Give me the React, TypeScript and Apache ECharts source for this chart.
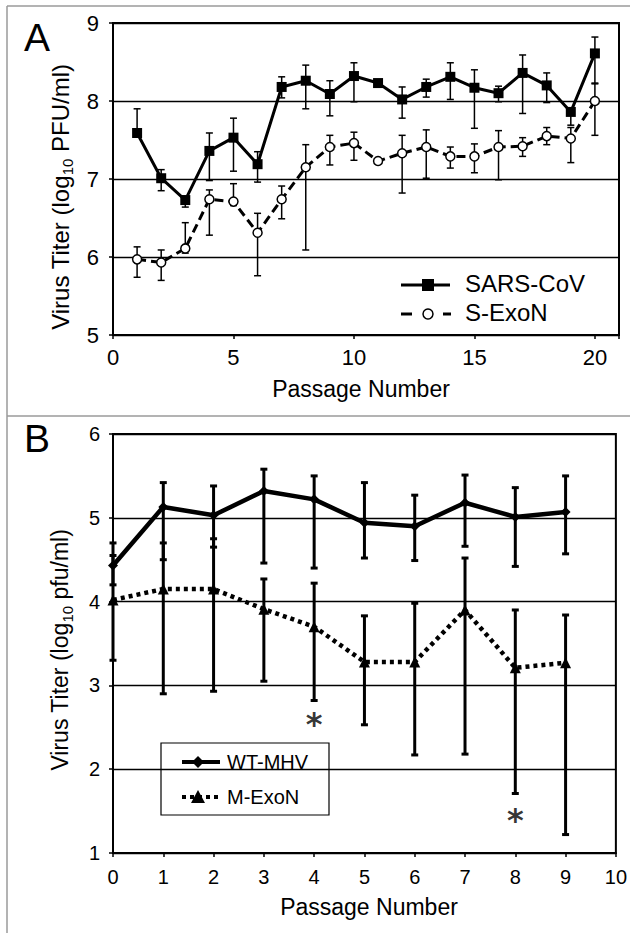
import React, { useEffect, useRef } from "react";
import * as echarts from "echarts";

// ---------- Panel A data ----------
const passagesA = [1, 2, 3, 4, 5, 6, 7, 8, 9, 10, 11, 12, 13, 14, 15, 16, 17, 18, 19, 20];
const sarsMean = [7.59, 7.01, 6.73, 7.36, 7.53, 7.19, 8.18, 8.26, 8.09, 8.32, 8.23, 8.02, 8.18, 8.31, 8.17, 8.1, 8.36, 8.2, 7.86, 8.61];
const sarsHi = [7.9, 7.12, 6.78, 7.59, 7.78, 7.35, 8.31, 8.46, 8.26, 8.49, 8.26, 8.18, 8.28, 8.49, 8.4, 8.19, 8.59, 8.36, 7.9, 8.82];
const sarsLo = [7.55, 6.85, 6.64, 6.98, 7.1, 6.96, 8.04, 7.9, 7.81, 7.99, 8.2, 7.78, 8.05, 8.02, 7.65, 7.99, 7.84, 7.98, 7.69, 8.23];
const sexonMean = [5.97, 5.93, 6.11, 6.74, 6.71, 6.31, 6.74, 7.15, 7.41, 7.46, 7.23, 7.33, 7.41, 7.29, 7.29, 7.41, 7.42, 7.55, 7.52, 8.0];
const sexonHi = [6.13, 6.09, 6.44, 6.86, 6.94, 6.56, 6.91, 7.44, 7.56, 7.6, 7.26, 7.56, 7.63, 7.41, 7.45, 7.62, 7.53, 7.66, 7.66, 8.22];
const sexonLo = [5.74, 5.7, 6.05, 6.28, 6.66, 5.76, 6.49, 6.09, 7.18, 7.24, 7.2, 6.82, 7.01, 7.14, 7.08, 6.99, 7.29, 7.44, 7.21, 7.56];
const xRangeA = [0, 21];
const xStepA = 5;
const yTicksA = [5, 6, 7, 8, 9];

// ---------- Panel B data ----------
const passagesB = [0, 1, 2, 3, 4, 5, 6, 7, 8, 9];
const wtMean = [4.43, 5.13, 5.03, 5.32, 5.22, 4.94, 4.9, 5.18, 5.01, 5.07];
const wtHi = [4.7, 5.42, 5.38, 5.58, 5.5, 5.42, 5.27, 5.51, 5.36, 5.5];
const wtLo = [4.2, 4.5, 4.65, 4.46, 4.4, 4.52, 4.49, 4.66, 4.42, 4.57];
const mexonMean = [4.02, 4.15, 4.15, 3.91, 3.7, 3.28, 3.28, 3.9, 3.21, 3.27];
const mexonHi = [4.55, 4.7, 4.75, 4.27, 4.22, 3.83, 3.98, 4.52, 3.9, 3.84];
const mexonLo = [3.3, 2.9, 2.93, 3.05, 2.82, 2.53, 2.17, 2.18, 1.71, 1.22];
const asteriskPoints = [
  [4, 2.62],
  [8, 1.48],
];
const xRangeB = [0, 10];
const yTicksB = [1, 2, 3, 4, 5, 6];

const FONT = '"Liberation Sans", Arial, Helvetica, sans-serif';

function errorSeries(xs: number[], lo: number[], hi: number[], gi: number, lw: number, capW: number) {
  return {
    type: "custom",
    xAxisIndex: gi,
    yAxisIndex: gi,
    z: 1,
    silent: true,
    data: xs.map((x, i) => [x, lo[i], hi[i]]),
    encode: { x: 0, y: [1, 2] },
    renderItem: (_params: any, api: any) => {
      const x = api.value(0);
      const top = api.coord([x, api.value(2)]);
      const bot = api.coord([x, api.value(1)]);
      const style = { stroke: "#000", lineWidth: lw };
      return {
        type: "group",
        children: [
          { type: "line", shape: { x1: top[0], y1: top[1], x2: bot[0], y2: bot[1] }, style },
          { type: "line", shape: { x1: top[0] - capW / 2, y1: top[1], x2: top[0] + capW / 2, y2: top[1] }, style },
          { type: "line", shape: { x1: bot[0] - capW / 2, y1: bot[1], x2: bot[0] + capW / 2, y2: bot[1] }, style },
        ],
      };
    },
  };
}

function axisCommon(fontSize: number, margin: number) {
  return {
    axisLine: { show: true, onZero: false, lineStyle: { color: "#000", width: 2 } },
    axisTick: { show: true, length: 4, lineStyle: { color: "#000", width: 1.5 } },
    axisLabel: { color: "#000", fontSize, fontFamily: FONT, margin },
  };
}

export default function App() {
  const ref = useRef<HTMLDivElement>(null);
  useEffect(() => {
    if (!ref.current) return;
    const chart = echarts.init(ref.current, null, { renderer: "svg" });
    const option: any = {
      animation: false,
      backgroundColor: "#fff",
      textStyle: { fontFamily: FONT },
      grid: [
        { left: 113, top: 23, width: 506, height: 312, show: true, borderColor: "#000", borderWidth: 2, backgroundColor: "transparent" },
        { left: 113, top: 434, width: 509, height: 419, show: true, borderColor: "#000", borderWidth: 2, backgroundColor: "transparent" },
      ],
      xAxis: [
        {
          type: "value",
          gridIndex: 0,
          min: xRangeA[0],
          max: xRangeA[1],
          interval: xStepA,
          splitLine: { show: false },
          ...axisCommon(22, 11),
          axisLabel: {
            color: "#000",
            fontSize: 22,
            fontFamily: FONT,
            margin: 11,
            formatter: (v: number) => (v % xStepA === 0 ? String(v) : ""),
          },
        },
        {
          type: "value",
          gridIndex: 1,
          min: xRangeB[0],
          max: xRangeB[1],
          interval: 1,
          splitLine: { show: false },
          ...axisCommon(20, 14),
        },
      ],
      yAxis: [
        {
          type: "value",
          gridIndex: 0,
          min: yTicksA[0],
          max: yTicksA[yTicksA.length - 1],
          interval: 1,
          splitLine: { show: true, lineStyle: { color: "#000", width: 1.3 } },
          ...axisCommon(22, 14),
        },
        {
          type: "value",
          gridIndex: 1,
          min: yTicksB[0],
          max: yTicksB[yTicksB.length - 1],
          interval: 1,
          splitLine: { show: true, lineStyle: { color: "#000", width: 1.3 } },
          ...axisCommon(20, 13),
        },
      ],
      series: [
        errorSeries(passagesA, sarsLo, sarsHi, 0, 1.5, 7),
        errorSeries(passagesA, sexonLo, sexonHi, 0, 1.5, 7),
        {
          name: "SARS-CoV",
          type: "line",
          xAxisIndex: 0,
          yAxisIndex: 0,
          z: 3,
          data: passagesA.map((x, i) => [x, sarsMean[i]]),
          symbol: "rect",
          symbolSize: 10,
          lineStyle: { color: "#000", width: 3 },
          itemStyle: { color: "#000" },
        },
        {
          name: "S-ExoN",
          type: "line",
          xAxisIndex: 0,
          yAxisIndex: 0,
          z: 3,
          data: passagesA.map((x, i) => [x, sexonMean[i]]),
          symbol: "circle",
          symbolSize: 9,
          lineStyle: { color: "#000", width: 3, type: [9, 5] },
          itemStyle: { color: "#fff", borderColor: "#000", borderWidth: 1.5 },
        },
        errorSeries(passagesB, wtLo, wtHi, 1, 3, 7),
        errorSeries(passagesB, mexonLo, mexonHi, 1, 3, 7),
        {
          name: "WT-MHV",
          type: "line",
          xAxisIndex: 1,
          yAxisIndex: 1,
          z: 3,
          data: passagesB.map((x, i) => [x, wtMean[i]]),
          symbol: "diamond",
          symbolSize: 10,
          lineStyle: { color: "#000", width: 4.5 },
          itemStyle: { color: "#000" },
        },
        {
          name: "M-ExoN",
          type: "line",
          xAxisIndex: 1,
          yAxisIndex: 1,
          z: 3,
          data: passagesB.map((x, i) => [x, mexonMean[i]]),
          symbol: "triangle",
          symbolSize: 11,
          lineStyle: { color: "#000", width: 4.5, type: [4, 4] },
          itemStyle: { color: "#000" },
        },
        {
          type: "scatter",
          xAxisIndex: 1,
          yAxisIndex: 1,
          z: 4,
          silent: true,
          data: asteriskPoints,
          symbolSize: 1,
          itemStyle: { color: "transparent" },
          label: {
            show: true,
            position: "inside",
            formatter: "*",
            color: "#000",
            fontSize: 32,
            fontWeight: "bold",
            fontFamily: '"DejaVu Sans", sans-serif',
            offset: [0, 7],
          },
        },
      ],
      graphic: [
        {
          type: "group",
          z: 100,
          children: [
            // outer frame
            { type: "line", shape: { x1: 7, y1: 6, x2: 630, y2: 6 }, style: { stroke: "#9a9a9a", lineWidth: 1.5 } },
            { type: "line", shape: { x1: 7, y1: 6, x2: 7, y2: 933 }, style: { stroke: "#9a9a9a", lineWidth: 1.5 } },
            { type: "line", shape: { x1: 7, y1: 416, x2: 630, y2: 416 }, style: { stroke: "#9a9a9a", lineWidth: 1.5 } },
            // panel letters
            { type: "text", x: 37, y: 37, style: { text: "A", font: `39px ${FONT}`, fill: "#000", align: "center", verticalAlign: "middle" } },
            { type: "text", x: 37, y: 438, style: { text: "B", font: `39px ${FONT}`, fill: "#000", align: "center", verticalAlign: "middle" } },
            // axis titles
            {
              type: "text",
              x: 60,
              y: 197,
              rotation: Math.PI / 2,
              style: {
                text: "{a|Virus Titer (log}{s|10}{a| PFU/ml)}",
                align: "center",
                verticalAlign: "middle",
                fill: "#000",
                rich: {
                  a: { fontSize: 24, fontFamily: FONT, lineHeight: 30, verticalAlign: "middle", fill: "#000" },
                  s: { fontSize: 15, fontFamily: FONT, lineHeight: 14, verticalAlign: "bottom", fill: "#000" },
                },
              },
            },
            {
              type: "text",
              x: 60,
              y: 650,
              rotation: Math.PI / 2,
              style: {
                text: "{a|Virus Titer (log}{s|10}{a| pfu/ml)}",
                align: "center",
                verticalAlign: "middle",
                fill: "#000",
                rich: {
                  a: { fontSize: 23, fontFamily: FONT, lineHeight: 30, verticalAlign: "middle", fill: "#000" },
                  s: { fontSize: 15, fontFamily: FONT, lineHeight: 14, verticalAlign: "bottom", fill: "#000" },
                },
              },
            },
            { type: "text", x: 361, y: 389, style: { text: "Passage Number", font: `23px ${FONT}`, fill: "#000", align: "center", verticalAlign: "middle" } },
            { type: "text", x: 369, y: 907, style: { text: "Passage Number", font: `23px ${FONT}`, fill: "#000", align: "center", verticalAlign: "middle" } },
            // legend A
            { type: "line", shape: { x1: 401, y1: 285, x2: 450, y2: 285 }, style: { stroke: "#000", lineWidth: 3 } },
            { type: "rect", shape: { x: 422, y: 279, width: 12, height: 12 }, style: { fill: "#000" } },
            { type: "text", x: 465, y: 283, style: { text: "SARS-CoV", font: `24px ${FONT}`, fill: "#000", align: "left", verticalAlign: "middle" } },
            { type: "line", shape: { x1: 401, y1: 314, x2: 412, y2: 314 }, style: { stroke: "#000", lineWidth: 3 } },
            { type: "line", shape: { x1: 443, y1: 314, x2: 451, y2: 314 }, style: { stroke: "#000", lineWidth: 3 } },
            { type: "circle", shape: { cx: 428, cy: 314, r: 5 }, style: { fill: "#fff", stroke: "#000", lineWidth: 1.5 } },
            { type: "text", x: 465, y: 312, style: { text: "S-ExoN", font: `24px ${FONT}`, fill: "#000", align: "left", verticalAlign: "middle" } },
            // legend B
            { type: "rect", shape: { x: 161, y: 743, width: 168, height: 72 }, style: { fill: "#fff", stroke: "#000", lineWidth: 1.2 } },
            { type: "line", shape: { x1: 182, y1: 762, x2: 220, y2: 762 }, style: { stroke: "#000", lineWidth: 4 } },
            { type: "polygon", shape: { points: [[198, 756], [204, 762], [198, 768], [192, 762]] }, style: { fill: "#000" } },
            { type: "text", x: 227, y: 762, style: { text: "WT-MHV", font: `20px ${FONT}`, fill: "#000", align: "left", verticalAlign: "middle" } },
            { type: "line", shape: { x1: 182, y1: 797, x2: 220, y2: 797 }, style: { stroke: "#000", lineWidth: 4, lineDash: [4, 4] } },
            { type: "polygon", shape: { points: [[198, 790], [205, 803], [191, 803]] }, style: { fill: "#000" } },
            { type: "text", x: 227, y: 797, style: { text: "M-ExoN", font: `20px ${FONT}`, fill: "#000", align: "left", verticalAlign: "middle" } },
          ],
        },
      ],
    };
    chart.setOption(option);
    return () => chart.dispose();
  }, []);
  return (
    <div
      ref={ref}
      style={{ position: "absolute", left: 0, top: 0, width: 630, height: 933, background: "#fff" }}
    />
  );
}
